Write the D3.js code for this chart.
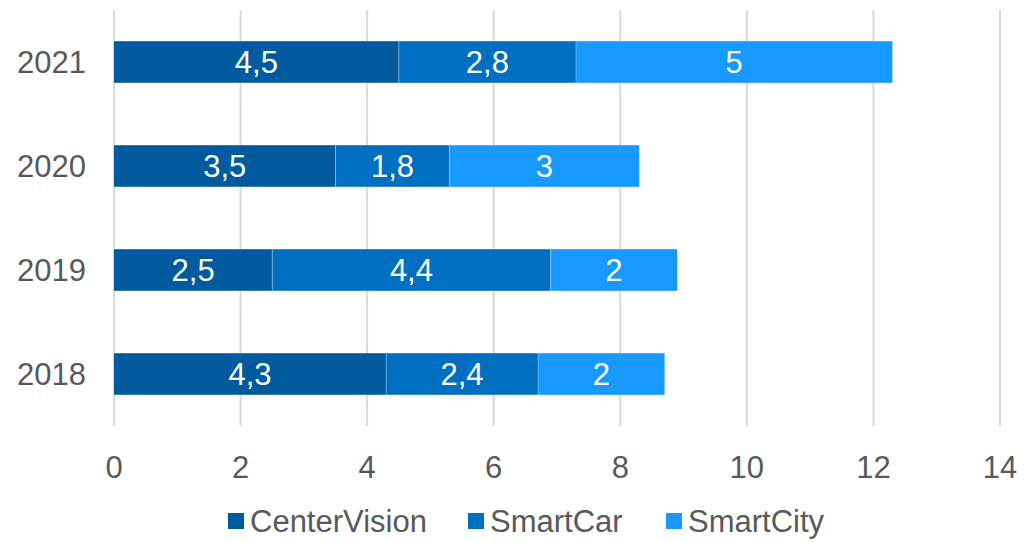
<!DOCTYPE html>
<html>
<head>
<meta charset="utf-8">
<script src="https://cdn.jsdelivr.net/npm/d3@7"></script>
<style>
  body { margin: 0; background: #fff; }
  svg { font-family: "Liberation Sans", Arial, sans-serif; }
</style>
</head>
<body>
<script>
// data
var years = ["2021", "2020", "2019", "2018"]
var seriesNames = ["CenterVision", "SmartCar", "SmartCity"]
var centerVision = [4.5, 3.5, 2.5, 4.3]
var smartCar = [2.8, 1.8, 4.4, 2.4]
var smartCity = [5, 3, 2, 2]
var xTicks = [0, 2, 4, 6, 8, 10, 12, 14]
var colors = ["#005a9e", "#006fc1", "#1899ff"]

var W = 1025, H = 542, fs = 31
var svg = d3.select("body").append("svg").attr("width", W).attr("height", H)

var x = d3.scaleLinear().domain([0, 14]).range([114, 1000])
var y = d3.scaleBand().domain(years).range([10, 426]).paddingInner(0.6).paddingOuter(0.3)

// grid
svg.selectAll("line.grid").data(xTicks).enter().append("line")
  .attr("x1", d => x(d)).attr("x2", d => x(d))
  .attr("y1", 10).attr("y2", 426)
  .attr("stroke", "#d9d9d9").attr("stroke-width", 2)

var rows = years.map(function (yr, i) {
  return { year: yr, CenterVision: centerVision[i], SmartCar: smartCar[i], SmartCity: smartCity[i] }
})
var stack = d3.stack().keys(seriesNames)(rows)

stack.forEach(function (layer, k) {
  var key = layer.key
  var g = svg.append("g")
  g.selectAll("rect").data(layer).enter().append("rect")
    .attr("x", d => x(d[0]))
    .attr("width", d => x(d[1]) - x(d[0]))
    .attr("y", d => y(d.data.year))
    .attr("height", y.bandwidth())
    .attr("fill", colors[k])
  g.selectAll("text").data(layer).enter().append("text")
    .attr("x", d => (x(d[0]) + x(d[1])) / 2)
    .attr("y", d => y(d.data.year) + y.bandwidth() / 2)
    .attr("dy", "0.36em")
    .attr("text-anchor", "middle")
    .attr("fill", "#fff")
    .attr("font-size", fs)
    .text(d => String(d.data[key]).replace(".", ","))
})

// separators between segments
stack.slice(1).forEach(function (layer) {
  svg.append("g").selectAll("line").data(layer).enter().append("line")
    .attr("x1", d => x(d[0])).attr("x2", d => x(d[0]))
    .attr("y1", d => y(d.data.year)).attr("y2", d => y(d.data.year) + y.bandwidth())
    .attr("stroke", "rgba(255,255,255,0.35)").attr("stroke-width", 1)
})

// y labels
svg.append("g").selectAll("text").data(years).enter().append("text")
  .attr("x", 86)
  .attr("y", d => y(d) + y.bandwidth() / 2)
  .attr("dy", "0.36em")
  .attr("text-anchor", "end")
  .attr("fill", "#595959")
  .attr("font-size", fs)
  .text(d => d)

// x labels
svg.append("g").selectAll("text").data(xTicks).enter().append("text")
  .attr("x", d => x(d))
  .attr("y", 467)
  .attr("dy", "0.36em")
  .attr("text-anchor", "middle")
  .attr("fill", "#595959")
  .attr("font-size", fs)
  .text(d => d)

// legend
var legendX = [228, 468, 666]
var leg = svg.append("g").selectAll("g").data(seriesNames).enter().append("g")
  .attr("transform", (d, i) => "translate(" + legendX[i] + ",521)")
leg.append("rect").attr("x", 0).attr("y", -8).attr("width", 16).attr("height", 16)
  .attr("fill", (d, i) => colors[i])
leg.append("text").attr("x", 22).attr("dy", "0.36em")
  .attr("fill", "#595959").attr("font-size", fs).text(d => d)
</script>
</body>
</html>
